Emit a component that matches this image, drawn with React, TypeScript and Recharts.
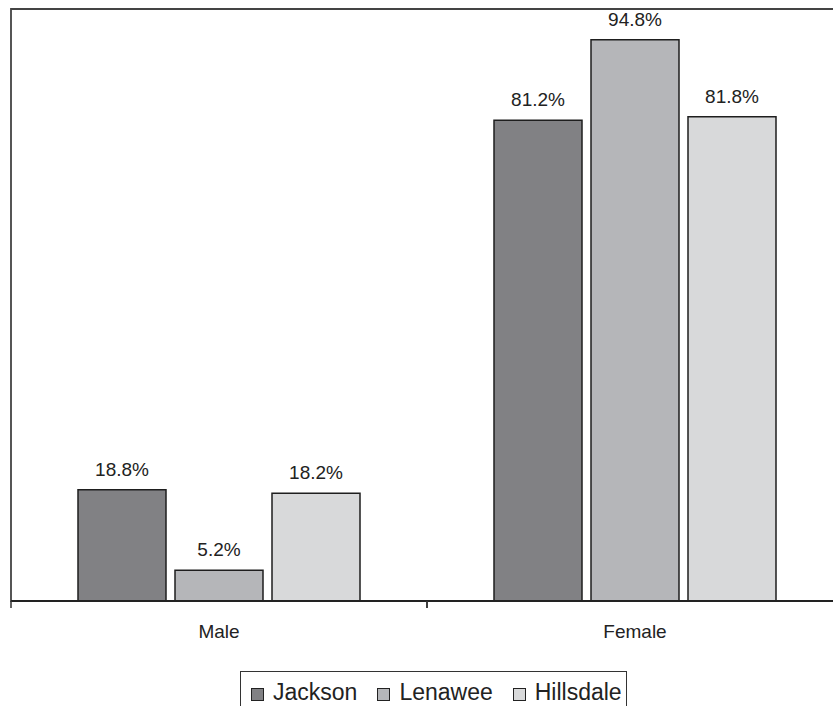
import React from 'react';
import { BarChart, Bar, XAxis, YAxis, LabelList, ReferenceArea } from 'recharts';

const categories = ['Male', 'Female'];
const jackson = [18.8, 81.2];
const lenawee = [5.2, 94.8];
const hillsdale = [18.2, 81.8];

const seriesNames = ['Jackson', 'Lenawee', 'Hillsdale'];
const seriesColors = ['#818184', '#b5b6b9', '#d8d9da'];
const seriesValues = [jackson, lenawee, hillsdale];

const data = categories.map((c, i) => {
  const row: any = { name: c };
  seriesNames.forEach((s, j) => {
    row[s] = seriesValues[j][i];
  });
  return row;
});

const FONT = '"Liberation Sans", Arial, sans-serif';
const TICK_SIZE = 6;
const TICK_MARGIN = 18;

const CustomTick = (props: any) => {
  const { x, y, payload } = props;
  const axisY = y - TICK_SIZE - TICK_MARGIN;
  const off = payload && typeof payload.offset === 'number' ? payload.offset : 0;
  return (
    <g>
      <line x1={x - off} x2={x - off} y1={axisY} y2={axisY + TICK_SIZE + 1} stroke="#333" strokeWidth={1.5} />
      <line x1={x + off} x2={x + off} y1={axisY} y2={axisY + TICK_SIZE + 1} stroke="#333" strokeWidth={1.5} />
      <text x={x} y={y} dy="0.71em" textAnchor="middle" fill="#222" fontSize={19} fontFamily={FONT}>
        {payload.value}
      </text>
    </g>
  );
};

const fmt = (v: any) => `${Number(v).toFixed(1)}%`;

export default function App() {
  return (
    <div style={{ position: 'absolute', left: 0, top: 0, width: 833, height: 706, overflow: 'hidden', background: '#fff' }}>
      <BarChart
        width={860}
        height={706}
        data={data}
        margin={{ top: 9, right: 17, left: 11, bottom: 65 }}
        barCategoryGap={67}
        barGap={9}
      >
        <XAxis
          dataKey="name"
          height={40}
          tickSize={TICK_SIZE}
          tickMargin={TICK_MARGIN}
          tickLine={false}
          axisLine={{ stroke: '#222', strokeWidth: 2 }}
          tick={<CustomTick />}
          interval={0}
        />
        <YAxis hide domain={[0, 100]} />
        <ReferenceArea
          x1={categories[0]}
          x2={categories[categories.length - 1]}
          y1={0}
          y2={100}
          fill="none"
          fillOpacity={0}
          stroke="#444"
          strokeWidth={1.8}
          ifOverflow="visible"
        />
        {seriesNames.map((s, j) => (
          <Bar
            key={s}
            dataKey={s}
            fill={seriesColors[j]}
            stroke="#1e1e1e"
            strokeWidth={1.5}
            isAnimationActive={false}
          >
            <LabelList
              dataKey={s}
              position="top"
              offset={14}
              formatter={fmt}
              fill="#222"
              fontSize={19}
              fontFamily={FONT}
            />
          </Bar>
        ))}
      </BarChart>
      <div
        style={{
          position: 'absolute',
          left: 240,
          top: 671,
          width: 387,
          height: 50,
          boxSizing: 'border-box',
          border: '1px solid #333',
          display: 'flex',
          alignItems: 'flex-start',
          paddingLeft: 10,
          paddingTop: 7,
          fontFamily: FONT,
          fontSize: 23,
          color: '#222',
          lineHeight: '27px',
        }}
      >
        {seriesNames.map((s, j) => (
          <div key={s} style={{ display: 'flex', alignItems: 'center', marginRight: 20 }}>
            <span
              style={{
                display: 'inline-block',
                width: 13,
                height: 13,
                boxSizing: 'border-box',
                background: seriesColors[j],
                border: '1px solid #222',
                marginRight: 9,
                marginTop: 3,
              }}
            />
            <span>{s}</span>
          </div>
        ))}
      </div>
    </div>
  );
}
